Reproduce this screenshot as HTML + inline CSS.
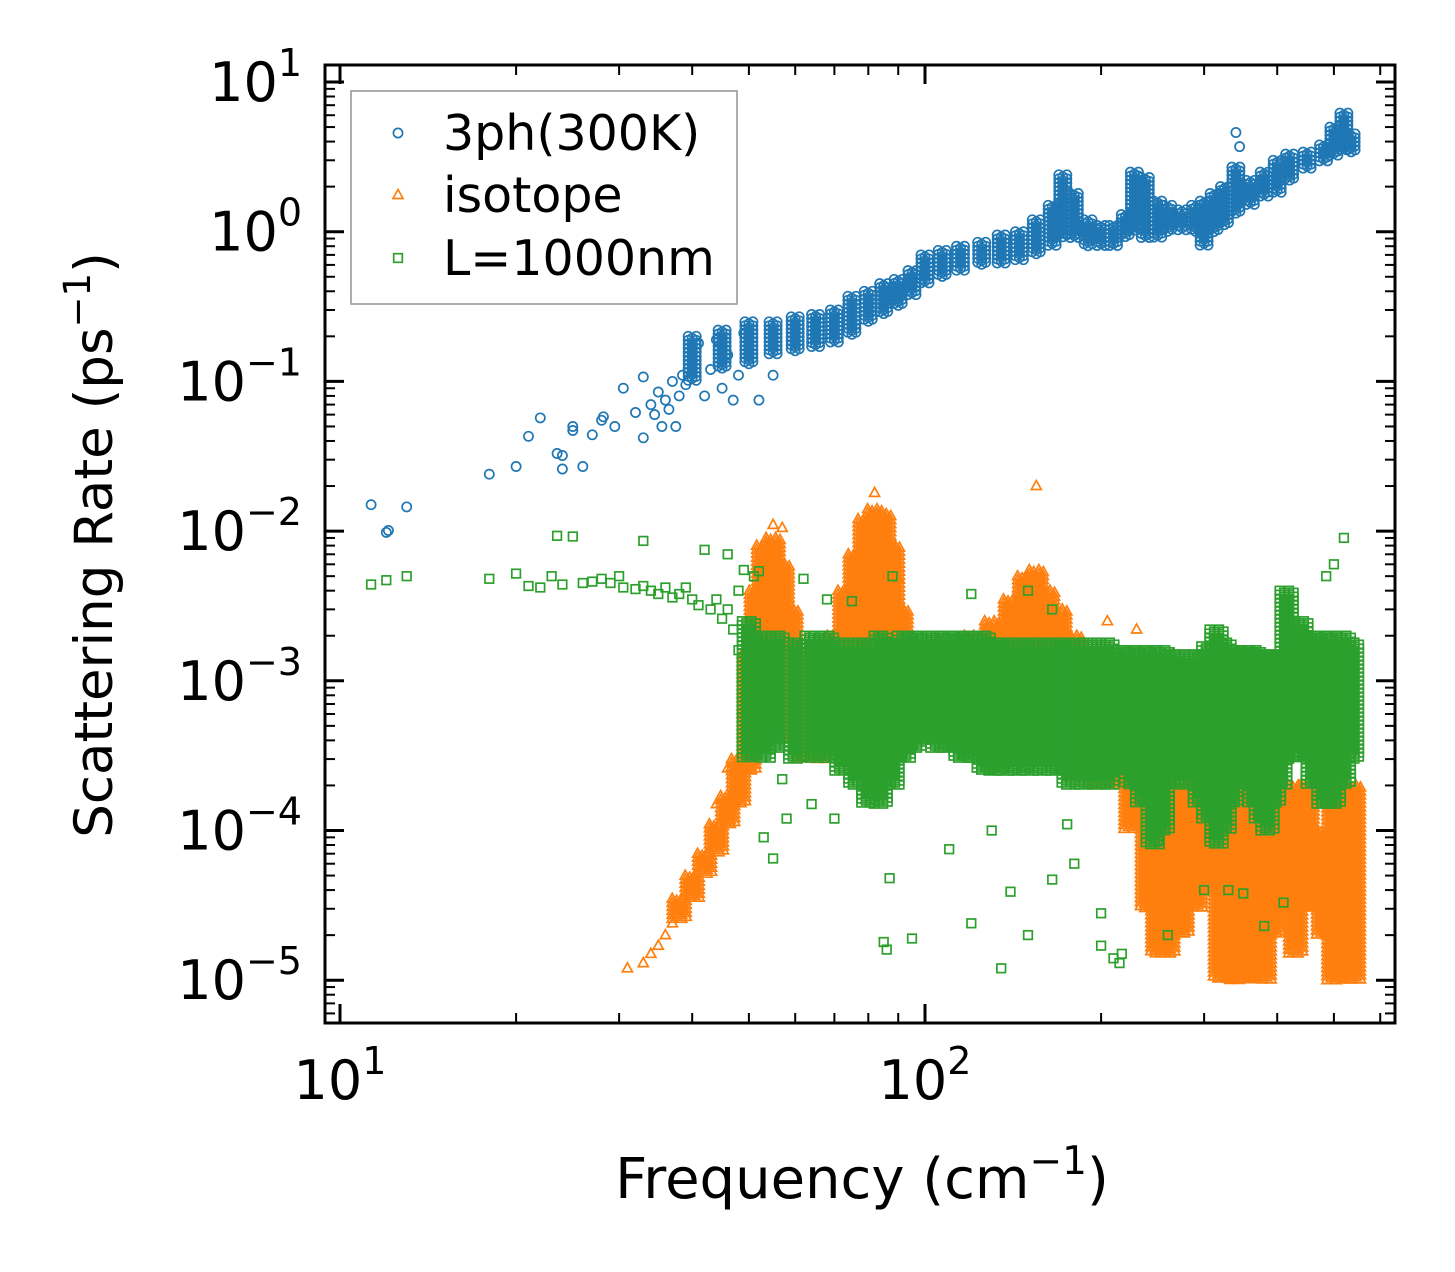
<!DOCTYPE html>
<html><head><meta charset="utf-8"><style>
html,body{margin:0;padding:0;background:#fff;}
svg{display:block;font-family:"DejaVu Sans","Liberation Sans",sans-serif;}
</style></head><body>
<svg id="chart" width="1455" height="1272" viewBox="0 0 1455 1272" xmlns="http://www.w3.org/2000/svg">
<rect x="0" y="0" width="1455" height="1272" fill="#fff"/>
<g id="marks"></g>
<g id="axes"></g>
</svg>
<script>
// ---- data (frequency cm^-1, rate ps^-1) ----
const bluePoints = [[11.3,0.015],[12,0.0098],[12.1,0.0101],[13,0.0145],[18,0.024],[20,0.027],[21,0.043],[22,0.057],[23.5,0.033],[24,0.026],[24,0.032],[25,0.047],[25,0.05],[26,0.027],[27,0.044],[28,0.055],[28.2,0.058],[29.5,0.05],[30.5,0.09],[32,0.062],[33,0.042],[33,0.107],[34,0.07],[34.5,0.06],[35,0.085],[35.5,0.05],[36,0.075],[36.5,0.065],[37,0.1],[37.5,0.05],[38,0.08],[38.5,0.11],[39,0.095],[40,0.13],[41,0.18],[42,0.08],[43,0.12],[44,0.19],[45,0.09],[46,0.15],[47,0.075],[48,0.11],[49,0.21],[52,0.075],[55,0.11],[340,4.6],[345,3.7]];
const blueBands = [[40,0.1,0.2],[45,0.12,0.22],[50,0.13,0.25],[55,0.15,0.25],[60,0.16,0.27],[65,0.17,0.28],[70,0.18,0.3],[75,0.2,0.37],[80,0.25,0.4],[85,0.28,0.45],[90,0.32,0.48],[95,0.37,0.55],[100,0.45,0.7],[107,0.5,0.75],[115,0.55,0.8],[125,0.6,0.85],[135,0.6,0.95],[145,0.65,1.0],[155,0.7,1.2],[165,0.8,1.5],[172,0.9,2.4],[180,0.9,1.8],[190,0.8,1.2],[200,0.8,1.1],[210,0.8,1.1],[220,0.9,1.3],[228,1.0,2.5],[238,0.9,2.3],[250,0.9,1.6],[260,1.0,1.5],[275,1.0,1.4],[290,1.0,1.5],[300,0.8,1.6],[312,1.0,1.8],[325,1.1,2.0],[340,1.3,2.7],[360,1.5,2.2],[380,1.7,2.5],[400,1.8,3.0],[420,2.2,3.3],[450,2.6,3.4],[480,2.9,3.8],[500,3.2,5.0],[520,3.5,6.2],[535,3.4,4.5]];
const orangePoints = [[31,1.2e-5],[33,1.3e-5],[34,1.5e-5],[35,1.7e-5],[36,2.0e-5],[37,2.4e-5],[155,0.02],[82,0.018],[55,0.011],[57,0.0105],[44,1.5e-4],[46,2.6e-4],[49,6e-4],[90,0.0048],[205,0.0025],[230,0.0022],[265,0.0015]];
const orangeBands = [[38,2.5e-5,3.5e-5],[40,3.5e-5,5e-5],[42,5e-5,7e-5],[44,7e-5,1.1e-4],[46,1.1e-4,1.7e-4],[48,1.5e-4,3e-4],[50,2.5e-4,1.5e-3],[51.5,4e-4,4e-3],[53,5e-4,8e-3],[55,6e-4,9e-3],[57,5e-4,6e-3],[59,4e-4,3e-3],[62,3e-4,1.5e-3],[66,3e-4,1.2e-3],[70,5e-4,2e-3],[73,8e-4,4e-3],[76,1e-3,7e-3],[79,1.5e-3,1.2e-2],[82,1.5e-3,1.4e-2],[85,1.5e-3,1.3e-2],[88,1e-3,8e-3],[91,8e-4,3e-3],[95,5e-4,1.5e-3],[100,4e-4,1.5e-3],[110,4e-4,1.8e-3],[120,4e-4,2e-3],[130,5e-4,2.5e-3],[140,5e-4,3.5e-3],[148,6e-4,5e-3],[155,6e-4,5.5e-3],[162,5e-4,4e-3],[170,4e-4,3e-3],[180,3e-4,2e-3],[195,2e-4,1.5e-3],[210,2e-4,1.2e-3],[225,1e-4,1e-3],[240,3e-5,6e-4],[250,1.5e-5,3e-4],[260,1.5e-5,2e-4],[275,2e-5,2e-4],[290,3e-5,2e-4],[305,4e-5,3e-4],[320,1e-5,4e-4],[335,1e-5,5e-4],[350,1e-5,4e-4],[365,1e-5,3e-4],[380,1e-5,2e-4],[395,2e-5,2e-4],[410,3e-5,1.5e-4],[430,1.5e-5,2e-4],[450,3e-5,2e-4],[480,2e-5,1e-4],[500,1e-5,1.5e-4],[520,1e-5,2e-4],[540,1e-5,2e-4]];
const greenPoints = [[11.3,4.4e-3],[12,4.7e-3],[13,5e-3],[18,4.8e-3],[20,5.2e-3],[21,4.3e-3],[22,4.2e-3],[23,5e-3],[23.5,9.3e-3],[24,4.4e-3],[25,9.2e-3],[26,4.5e-3],[27,4.6e-3],[28,4.8e-3],[29,4.5e-3],[30,5e-3],[30.5,4.2e-3],[32,4.1e-3],[33,8.6e-3],[33,4.3e-3],[34,4e-3],[35,3.8e-3],[36,4.2e-3],[37,3.6e-3],[38,3.8e-3],[39,4.2e-3],[40,3.5e-3],[41,3.2e-3],[42,7.5e-3],[43,3e-3],[44,3.5e-3],[45,2.6e-3],[46,7e-3],[46,3e-3],[47,2.2e-3],[48,1.6e-3],[48,4e-3],[49,5.5e-3],[50,1e-3],[51,5e-3],[52,5.4e-3],[58,1.2e-4],[55,6.5e-5],[53,9e-5],[70,1.2e-4],[85,1.8e-5],[86,1.6e-5],[87,4.8e-5],[95,1.9e-5],[110,7.5e-5],[120,2.4e-5],[135,1.2e-5],[140,3.9e-5],[150,2e-5],[165,4.7e-5],[180,6e-5],[200,2.8e-5],[200,1.7e-5],[210,1.4e-5],[215,1.3e-5],[217,1.5e-5],[260,2e-5],[330,4e-5],[350,3.8e-5],[380,2.3e-5],[410,3.3e-5],[520,9e-3],[500,6e-3],[485,5e-3],[62,4.8e-3],[68,3.5e-3],[88,5e-3],[120,3.8e-3],[150,4e-3],[165,3e-3],[75,3.4e-3],[57,2.2e-4],[64,1.5e-4],[130,1e-4],[175,1.1e-4],[250,8.5e-5],[300,4e-5]];
const greenBands = [[50,3e-4,2.5e-3],[53,3e-4,2e-3],[56,3.5e-4,2e-3],[60,3e-4,1.8e-3],[64,3e-4,2e-3],[68,3e-4,2e-3],[72,2.5e-4,1.8e-3],[76,2e-4,1.8e-3],[80,1.5e-4,1.8e-3],[84,1.5e-4,2e-3],[88,2e-4,1.8e-3],[92,3e-4,2e-3],[96,3.5e-4,2e-3],[100,4e-4,2e-3],[105,3.5e-4,2e-3],[110,3.5e-4,2e-3],[115,3e-4,2e-3],[120,3e-4,2e-3],[126,2.5e-4,2e-3],[132,2.5e-4,1.8e-3],[138,2.5e-4,1.8e-3],[145,2.5e-4,1.8e-3],[152,2.5e-4,1.8e-3],[160,2.5e-4,1.8e-3],[168,2.5e-4,1.8e-3],[176,2e-4,1.8e-3],[185,2e-4,1.8e-3],[195,2e-4,1.8e-3],[205,2e-4,1.8e-3],[215,2.5e-4,1.6e-3],[225,2e-4,1.6e-3],[235,1.5e-4,1.6e-3],[245,8e-5,1.6e-3],[255,1e-4,1.6e-3],[265,2e-4,1.5e-3],[275,2e-4,1.5e-3],[285,2e-4,1.5e-3],[295,1.5e-4,1.5e-3],[305,1.2e-4,1.7e-3],[315,8e-5,2.2e-3],[325,1e-4,1.8e-3],[335,1.5e-4,1.6e-3],[345,2e-4,1.6e-3],[355,2e-4,1.6e-3],[365,1.5e-4,1.6e-3],[375,1.2e-4,1.5e-3],[385,1e-4,1.5e-3],[395,1.5e-4,1.5e-3],[405,2e-4,1.5e-3],[415,3e-4,4e-3],[440,3e-4,2.5e-3],[460,2e-4,2e-3],[480,1.5e-4,2e-3],[500,1.5e-4,2e-3],[520,2e-4,2e-3],[537,3e-4,1.8e-3]];
const xTickLabels = ["1","2"];
const yTickLabels = ["1","0","\u22121","\u22122","\u22123","\u22124","\u22125"];

// ---- scales ----
const X0 = 340, XDEC = 585, Y0 = 82, YDEC = 149.7;
function sx(f){ return X0 + (Math.log10(f) - 1) * XDEC; }
function sy(r){ return Y0 + (1 - Math.log10(r)) * YDEC; }
const NS = "http://www.w3.org/2000/svg";
const marks = document.getElementById('marks');
const axes = document.getElementById('axes');
function mk(tag, attrs, parent){ const e = document.createElementNS(NS, tag); for (const k in attrs) e.setAttribute(k, attrs[k]); parent.appendChild(e); return e; }

const COL = {blue:"#1f77b4", orange:"#ff7f0e", green:"#2ca02c"};
function marker(kind, x, y, g){
  let e;
  if (kind === 'blue') e = mk('circle', {cx:x.toFixed(1), cy:y.toFixed(1), r:4.6, fill:'none', stroke:COL.blue, 'stroke-width':1.7}, g);
  else if (kind === 'orange') e = mk('polygon', {points:`${(x).toFixed(1)},${(y-5.5).toFixed(1)} ${(x-5).toFixed(1)},${(y+3.5).toFixed(1)} ${(x+5).toFixed(1)},${(y+3.5).toFixed(1)}`, fill:'none', stroke:COL.orange, 'stroke-width':1.7}, g);
  else e = mk('rect', {x:(x-4.3).toFixed(1), y:(y-4.3).toFixed(1), width:8.6, height:8.6, fill:'none', stroke:COL.green, 'stroke-width':1.7}, g);
  return e;
}
function drawSeries(kind, points, bands, name){
  const g = mk('g', {}, marks);
  
  
  bands.forEach(b => {
    const x = sx(b[0]), y1 = sy(b[2]), y2 = sy(b[1]);
    const offs = kind === 'blue' ? [-4, 0, 4] : [-7, -2.5, 2.5, 7];
    offs.forEach((o, i) => {
      for (let y = y1 + (i % 2) * 2; y <= y2; y += 4) {
        const m = marker(kind, x + o, y, g);
        
        
      }
    });
  });
  points.forEach(p => {
    const m = marker(kind, sx(p[0]), sy(p[1]), g);
    
    
  });
}
drawSeries('blue', bluePoints, blueBands, 'series-3ph');
drawSeries('orange', orangePoints, orangeBands, 'series-isotope');
drawSeries('green', greenPoints, greenBands, 'series-boundary');

// ---- axes frame ----
const L = 325, R = 1395, T = 65, B = 1023;
const cp = mk('clipPath', {id:'clip'}, document.getElementById('chart'));
mk('rect', {x:L, y:T, width:R-L, height:B-T}, cp);
marks.setAttribute('clip-path', 'url(#clip)');
const frame = mk('rect', {x:L, y:T, width:R-L, height:B-T, fill:'none', stroke:'#000', 'stroke-width':3}, axes);



for (let d = 1; d <= 2; d++) {
  for (let k = 1; k <= 9; k++) {
    const f = k * Math.pow(10, d);
    const x = sx(f);
    if (x < L || x > R) continue;
    const len = k === 1 ? 19 : 10;
    mk('line', {x1:x, y1:B, x2:x, y2:B-len, stroke:'#000', 'stroke-width':k===1?3:2}, axes);
    mk('line', {x1:x, y1:T, x2:x, y2:T+len, stroke:'#000', 'stroke-width':k===1?3:2}, axes);
  }
}
xTickLabels.forEach((lab, i) => {
  const x = sx(Math.pow(10, i + 1));
  const t = mk('text', {x:x, y:1099, 'font-size':54, 'text-anchor':'middle', fill:'#000'}, axes);
  
  
  t.innerHTML = `10<tspan dy="-25" font-size="38">${lab}</tspan>`;
});
for (let e = -6; e <= 1; e++) {
  for (let k = 1; k <= 9; k++) {
    const r = k * Math.pow(10, e);
    const y = sy(r);
    if (y < T || y > B) continue;
    const len = k === 1 ? 19 : 10;
    mk('line', {x1:L, y1:y, x2:L+len, y2:y, stroke:'#000', 'stroke-width':k===1?3:2}, axes);
    mk('line', {x1:R, y1:y, x2:R-len, y2:y, stroke:'#000', 'stroke-width':k===1?3:2}, axes);
  }
}
yTickLabels.forEach((lab, i) => {
  const y = sy(Math.pow(10, 1 - i));
  const t = mk('text', {x:302, y:y+19, 'font-size':54, 'text-anchor':'end', fill:'#000'}, axes);
  
  
  t.innerHTML = `10<tspan dy="-25" font-size="38">${lab}</tspan>`;
});
</script>
<div style="position:absolute;left:0;top:0;width:1455px;height:1272px;pointer-events:none">
<svg width="1455" height="1272" style="position:absolute;left:0;top:0;font-family:'DejaVu Sans','Liberation Sans',sans-serif">
  <text x="862" y="1198" font-size="56" text-anchor="middle" fill="#000">Frequency (cm<tspan dy="-24" font-size="39">−1</tspan><tspan dy="24">)</tspan></text>
  <text transform="translate(112,545) rotate(-90)" font-size="53" text-anchor="middle" fill="#000">Scattering Rate (ps<tspan dy="-22" font-size="37">−1</tspan><tspan dy="22">)</tspan></text>
  <g>
    <rect x="351" y="91" width="386" height="213" fill="#fff" stroke="#999" stroke-width="1.6"/>
    <circle cx="398" cy="133" r="4.6" fill="none" stroke="#1f77b4" stroke-width="1.7"/>
    <text x="443" y="150" font-size="49" fill="#000">3ph(300K)</text>
    <polygon points="398,189.5 393,198.5 403,198.5" fill="none" stroke="#ff7f0e" stroke-width="1.7"/>
    <text x="443" y="212" font-size="49" fill="#000">isotope</text>
    <rect x="393.7" y="253.7" width="8.6" height="8.6" fill="none" stroke="#2ca02c" stroke-width="1.7"/>
    <text x="443" y="275" font-size="49" fill="#000">L=1000nm</text>
  </g>
</svg>
</div>
</body></html>
